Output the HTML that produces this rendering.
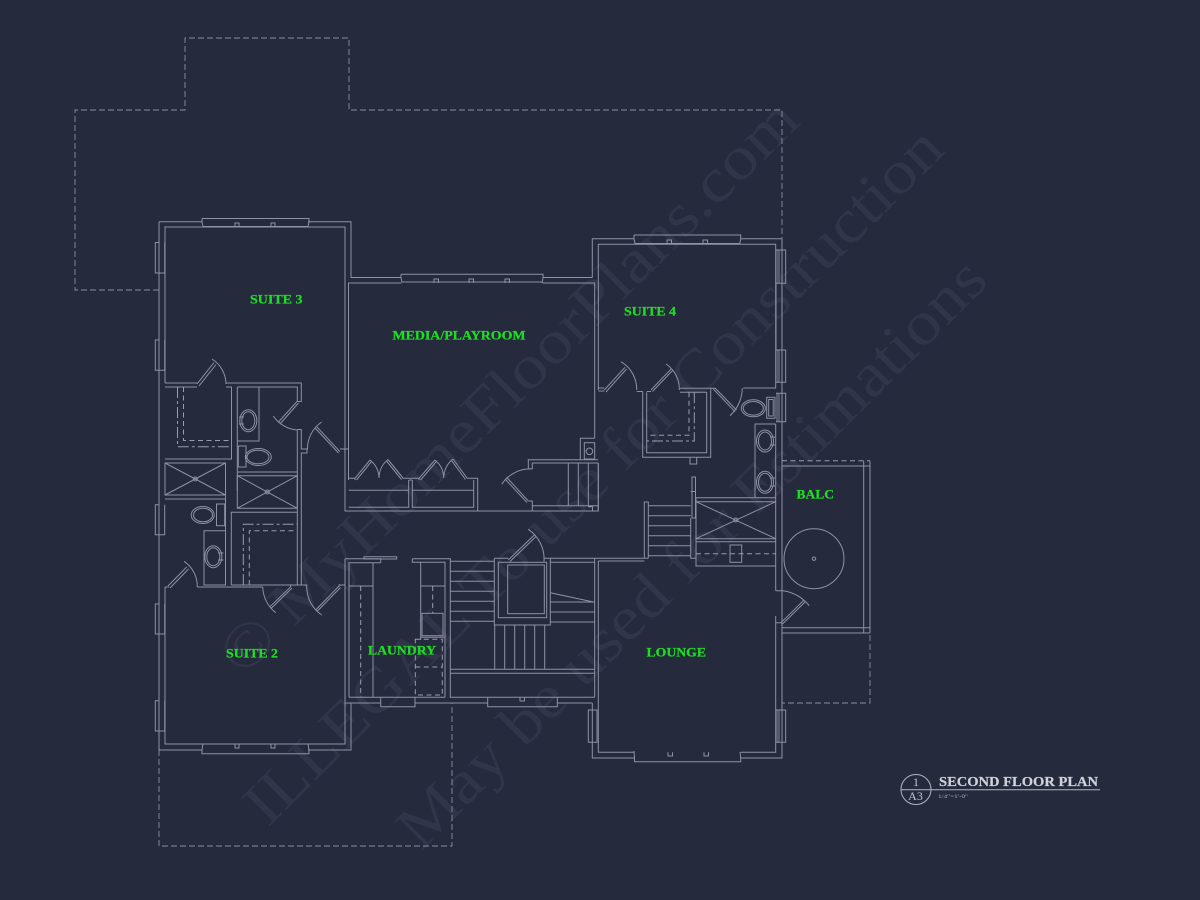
<!DOCTYPE html>
<html><head><meta charset="utf-8"><title>Second Floor Plan</title>
<style>html,body{margin:0;padding:0;background:#252a3c;width:1200px;height:900px;overflow:hidden}svg{display:block}
.w{fill:none;stroke:#8f92a4;stroke-width:1}
.d{fill:none;stroke:#9a9dae;stroke-width:1;stroke-dasharray:5 3.5}
.r{fill:none;stroke:#8b8ea0;stroke-width:.9;stroke-dasharray:6 3}
.dd{fill:none;stroke:#9a9dae;stroke-width:1;stroke-dasharray:11 3 3 3}
.l{font-family:"Liberation Serif",serif;font-weight:bold;font-size:12.5px;fill:#1fdc24;stroke:#1fdc24;stroke-width:.25}
.m{font-family:"Liberation Serif",serif;font-size:62px;fill:#30354a}
</style></head><body>
<svg width="1200" height="900" viewBox="0 0 1200 900" xmlns="http://www.w3.org/2000/svg">
<rect width="1200" height="900" fill="#252a3c"/>
<!-- watermark -->
<text class="m" transform="translate(243,678) rotate(-44.8)" textLength="788" lengthAdjust="spacingAndGlyphs">© MyHomeFloorPlans.com</text>
<text class="m" transform="translate(268,828) rotate(-44.9)" textLength="958" lengthAdjust="spacingAndGlyphs">ILLEGAL To use for Construction</text>
<text class="m" transform="translate(421,852) rotate(-45)" textLength="805" lengthAdjust="spacingAndGlyphs">May be used for Estimations</text>
<!-- roof dashed -->
<path class="r" d="M159 290H75V110H185V38H349V110H782V238M159 750V846H452V703M782 633H870V703H782"/>
<!-- Suite 3 / 2 shell -->
<path class="w" d="M159 221.7V750H202M308 750H351V703M159 221.7H202M308 221.7H351V277.5H401M165 383V227H345V449M165 587V744H345V587"/>
<!-- left windows -->
<path class="w" d="M159 242.5H155.3V273H159M164.7 242.5V273H159M159 340H155.3V370.3H159M164.7 340V370.3H159M159 504.7H155.3V534.7H159M164.7 504.7V534.7H159M159 604H155.3V634H159M164.7 604V634H159M159 700.7H155.3V731H159M164.7 700.7V731H159"/>
<!-- top / bottom windows suite 3/2 -->
<path class="w" d="M202 218.5H309V222.5L308 226.5M202 218.5V222.5L203 226.5H308M235 227V223H239V227M271 227V223H275V227"/>
<path class="w" d="M203 744L202 750V753.7H309V750L308 744M235 744V748H239V744M271 744V748H275V744"/>
<!-- suite 3 bath/closet -->
<path class="w" d="M165 383H197M226 383H301.3V401.5H297.3M165 387H197M226 387H231.5V459H165M237.3 387H297.3V401.5M237.3 387V491M237.3 441H259V387M237.3 472H297.3M297.3 429.5H301.3V449H307V453H301.3V585M297.3 429.5V585"/>
<path class="w" d="M197 384L214 362.5M199 386L216 364.5M212 359A30 30 0 0 1 226 384"/>
<path class="w" d="M297 401.5L278 422.5M298.5 403L280 424M273.3 416A32 32 0 0 0 297 430"/>
<path class="w" d="M340 451.7L316.7 426.7M338.5 453L315 428M307.5 449.5A32 32 0 0 1 321.7 422M340 449H345"/>
<path class="dd" d="M177.5 387V446.7H231.5"/><path class="d" d="M183.5 387V440.5H231.5"/>
<!-- showers -->
<path class="w" d="M165 463H225.5V495H165ZM165 495L225.5 463M165 463L225.5 495M165 499H225.5"/>
<circle class="w" cx="195.3" cy="479" r="2"/>
<path class="w" d="M237.3 475.7H297.3V508.3H237.3ZM237.3 508.3L297.3 475.7M237.3 475.7L297.3 508.3"/>
<circle class="w" cx="267.3" cy="492" r="2"/>
<!-- fixtures -->
<rect class="w" x="238.3" y="446" width="7.7" height="21"/>
<ellipse class="w" cx="258.3" cy="457" rx="13" ry="8.5"/><ellipse class="w" cx="258" cy="457" rx="11" ry="6.8"/>
<ellipse class="w" cx="248.3" cy="420.7" rx="8.5" ry="11"/><ellipse class="w" cx="248.3" cy="420.7" rx="6.5" ry="9"/>
<path class="w" d="M239 417H244M239 424H244"/>
<rect class="w" x="216.5" y="504" width="8.2" height="21.7"/>
<ellipse class="w" cx="202.7" cy="515" rx="11.5" ry="8.5"/><ellipse class="w" cx="203" cy="515" rx="9.5" ry="6.8"/>
<ellipse class="w" cx="213.3" cy="556.7" rx="8.5" ry="11"/><ellipse class="w" cx="213.3" cy="556.7" rx="6.5" ry="9"/>
<path class="w" d="M218 553H223.5M218 560H223.5"/>
<!-- suite 2 bath -->
<path class="w" d="M225.5 463V585H204V530.7H225.5M204 530.7V585M165 587H169M197.3 587H262.7M231.3 585V512.3H297.3M231.3 585H297.3M290.7 587V585H306.7V587M339 587V585H345"/>
<path class="dd" d="M243.3 585V524.3H297.3"/><path class="d" d="M249.3 585V530.7H297.3"/>
<path class="w" d="M168 586L186.7 567M170 588L188.5 569M184 561.3A30 30 0 0 1 197.3 587"/>
<path class="w" d="M262.7 587A34 34 0 0 0 275.7 612.7M270 606.7L290.7 586.7M271.5 608L292 588"/>
<path class="w" d="M306.7 587A34 34 0 0 0 321.7 615M315.7 610L339 586M317 611.5L340.5 587.5"/>
<!-- media -->
<path class="w" d="M348.5 480V283H401.5M542.5 283H594.7V438.3M345 449V511H592M348.7 507.3H408.7V480M348.7 490.3H408.7M412.3 480V507.3H473.7V480M412.3 490.3H473.7M348.7 478.3H355V480M402.7 478.3H419V480M467 478.3H477.7V510.7M409 480H412.3M345 449H348.5"/>
<path class="w" d="M401 274.3H543V278L542 283M401 274.3V278L402 282H542M434 283V279H438.5V283M469 283V279H473.5V283M505 283V279H509.5V283"/>
<path class="w" d="M355 478.3L370 460M356.5 480L371.5 461.5M370 460A24 24 0 0 1 379 478M388 459.5L403 478M386.5 461L401.5 479.5M388 459.5A24 24 0 0 0 379 478M419 478.3L435 460M420.5 480L436.5 461.5M435 460A24 24 0 0 1 443.7 478M453 459L467 478M451.5 460.5L465.5 479.5M453 459A24 24 0 0 0 443.7 478"/>
<path class="w" d="M506.7 477.3L528.3 501M505 479L527 502.5M501.7 484.3A34 34 0 0 1 532.3 469M528.3 469V459.7H598M532.3 469V463H598.3M528.3 501H532.3V511M532.3 505.7H598.3M568.3 463V506M578.3 463V506M588.3 463V506M598.3 463V511H592M588 506.7H592.5V510.7"/>
<path class="w" d="M580.3 459.7V438.3H594.7"/><rect class="w" x="584.3" y="442.7" width="10.4" height="16.3"/><circle class="w" cx="589.4" cy="451.3" r="3.3"/>
<!-- suite 4 -->
<path class="w" d="M592.3 277.5V238.7H634M740.7 238.7H782V622.7M543 277.5H592.3M598.3 390V244.3H775.7V388H743.3M775.7 244.3V388M598.3 463V510"/>
<path class="w" d="M634 235H740.7V239L739.7 244M634 235V239L635 243.5H740M667 244V240H671.5V244M703 244V240H707.5V244"/>
<rect x="776" y="250" width="4" height="33" fill="#565a6c"/><rect x="776" y="350" width="4" height="32" fill="#565a6c"/><rect x="776" y="393.5" width="4" height="28" fill="#565a6c"/><rect x="776" y="710" width="4" height="32" fill="#565a6c"/>
<path class="w" d="M782 250H785.7V283.3H782M776 250H782M776 283.3H782M782 350H785.7V382.3H782M776 350H782M776 382.3H782M782 393.3H785.7V421.7H782M776 393.3H782M776 421.7H782"/>
<path class="w" d="M776 283V350M598.3 388H604.3M598.3 391H604.3M636.7 391.5H642.7M651 391.5H646.7M680 388.3H715M680 392.3H706.7M642.7 391.5V457.3H710.7V388.3M646.7 392.3V452.7H706.7V392.3M690 457.3V464H696.7V457.3"/>
<path class="dd" d="M694.3 392.3V441H646.7"/><path class="d" d="M689 392.3V435.3H646.7"/>
<path class="w" d="M604.3 390L625 367.3M606 392L626.5 369M621 361.7A32 32 0 0 1 636.7 390M651 390L671.7 368.3M652.5 391.5L673 370M666 364A30 30 0 0 1 679.3 390"/>
<path class="w" d="M713.3 389L735 411.7M715 388L736.5 410M742.3 388.3A38 38 0 0 1 730 415.7"/>
<rect class="w" x="766.7" y="397.3" width="8.3" height="21"/><rect class="w" x="768.7" y="399.5" width="4.5" height="16.5"/>
<ellipse class="w" cx="753.3" cy="408.3" rx="12" ry="8.5"/><ellipse class="w" cx="753.3" cy="408.3" rx="10" ry="6.8"/>
<path class="w" d="M775.7 424H755V497.3"/>
<ellipse class="w" cx="765" cy="441" rx="8.5" ry="11"/><ellipse class="w" cx="765" cy="441" rx="6.5" ry="9"/>
<ellipse class="w" cx="765" cy="482.3" rx="8.5" ry="11"/><ellipse class="w" cx="765" cy="482.3" rx="6.5" ry="9"/>
<path class="w" d="M770 437H775M770 445H775M770 478H775M770 486H775"/>
<!-- shower & stair east -->
<path class="w" d="M696 497.7H775.7M696 501.7H775.7V538.7H696ZM696 538.7L775.7 501.7M696 501.7L775.7 538.7M696 497.7V566H775.7M696 541.7H775.7M775.7 424V590.7"/>
<circle class="w" cx="735.8" cy="520" r="2"/>
<rect class="w" x="730" y="545" width="11.7" height="17.3"/><path class="d" d="M696 553.7H775.7"/>
<path class="w" d="M692 477V518H695.5V477ZM690.7 491.5H696M690.7 518V558.3H696M644.3 558.3V502H648.3V558.3M648.3 505.7H690.7M648.3 515.7H690.7M648.3 525.7H690.7M648.3 535.7H690.7M648.3 545.7H690.7M648.3 555.7H690.7"/>
<!-- lounge -->
<path class="w" d="M594.7 558.3H648.3M598.3 561V752.3H634M598.3 561H644.3M592.3 703V758H634M740.7 758H782V622.7M740.7 752.3H775.7V622.7H781.7M775.7 622.7V616"/>
<path class="w" d="M634 751L634.5 758V761.7H740.7V758L740 752M668 752.3V756H672.5V752.3M704 752.3V756H708.5V752.3"/>
<path class="w" d="M592.3 710H588.3V742.3H592.3M592.3 710H597V742.3H592.3M782 710H785.7V742.3H782M776 710H782M776 742.3H782"/>
<!-- balcony -->
<path class="d" d="M782 460.7H870"/>
<path class="w" d="M782 466H870M863.7 461V633M870 461V633M782 627.7H870M782 633H870"/>
<circle class="w" cx="814" cy="558.7" r="30"/><circle class="w" cx="814" cy="558.7" r="1.7"/>
<path class="w" d="M775.7 590.7H783.3A42 42 0 0 1 809.3 605.7M804 600L781 622.7M805.5 601.5L782.5 624"/>
<!-- laundry -->
<path class="w" d="M345 558.7V700M345 558.7H380.7V562.7M364 556.7H396.7V559H364ZM349 697.3V562.7H380.7M373 562.7V697.3M349 586H373M349 697.3H445M412.3 558.7H450.3V697.3H594.7M412.3 558.7V562.3H445V697.3M420.7 562.3V637.3H445M420.7 586H445M420.7 637.3V640"/>
<path class="d" d="M360.7 586V697.3M432.7 586V613.3"/>
<rect class="w" x="422" y="613.3" width="21" height="22.4"/>
<path class="d" d="M415.3 639.3H442.3V695H415.3ZM415.3 667H442.3"/>
<path class="w" d="M345 700V703H380.7M380.7 697V706.7H415V697M380.7 703H351M415 703H487.7M487.7 697V706.7H557.3V697M557.3 703H592.3M520 697V701H524.5V697"/>
<!-- central stairs -->
<path class="w" d="M450.3 561.3H494.3M450.3 571.3H494.3M450.3 581.3H494.3M450.3 591.3H494.3M450.3 601.3H494.3M450.3 611.3H494.3M450.3 621.3H494.3"/>
<path class="w" d="M494.3 558.3H508.3M544 558.3H594.7M494.3 558.3V625H550.3V558.3"/>
<rect class="w" x="498.3" y="562.3" width="48.4" height="55.4"/><rect class="w" x="507.7" y="565" width="36.6" height="48.7"/>
<path class="w" d="M508.3 560L534.3 535M510 561.5L536 536.5M528.3 529.3A36 36 0 0 1 544 561.7"/>
<path class="w" d="M550.3 562.3H594.7M550.3 592.7L594.7 602.3M550.3 602H594.7M550.3 612H594.7M550.3 622H594.7M594.7 558.3V697.3"/>
<path class="w" d="M494.7 625V669.3M504.7 625V669.3M514.7 625V669.3M524.7 625V669.3M534.7 625V669.3M544.7 625V669.3M450.3 669.3H594.7M450.3 673.3H594.7"/>
<!-- labels -->
<text class="l" x="250" y="303.5" textLength="52.5" lengthAdjust="spacingAndGlyphs">SUITE 3</text>
<text class="l" x="392.5" y="339.5" textLength="133" lengthAdjust="spacingAndGlyphs">MEDIA/PLAYROOM</text>
<text class="l" x="624" y="315.5" textLength="52" lengthAdjust="spacingAndGlyphs">SUITE 4</text>
<text class="l" x="796.5" y="498.5" textLength="37.5" lengthAdjust="spacingAndGlyphs">BALC</text>
<text class="l" x="226" y="657.5" textLength="52" lengthAdjust="spacingAndGlyphs">SUITE 2</text>
<text class="l" x="368" y="654.5" textLength="68" lengthAdjust="spacingAndGlyphs">LAUNDRY</text>
<text class="l" x="646.5" y="656.5" textLength="59.5" lengthAdjust="spacingAndGlyphs">LOUNGE</text>
<!-- title block -->
<circle cx="916" cy="789.5" r="15" fill="none" stroke="#b4b6c3" stroke-width="1"/>
<path d="M901 789.7H1100" stroke="#b4b6c3" stroke-width="1"/>
<text x="916" y="786" text-anchor="middle" font-family="Liberation Serif,serif" font-size="12" fill="#c4c6d0">1</text>
<text x="915.5" y="800" text-anchor="middle" font-family="Liberation Serif,serif" font-size="12" fill="#c4c6d0">A3</text>
<text x="939" y="786" font-family="Liberation Serif,serif" font-weight="bold" font-size="13.5" fill="#d0d2da" stroke="#d0d2da" stroke-width=".2" textLength="159" lengthAdjust="spacingAndGlyphs">SECOND FLOOR PLAN</text>
<text x="938" y="798" font-family="Liberation Serif,serif" font-size="5.5" fill="#b4b6c3" textLength="30" lengthAdjust="spacingAndGlyphs">1/4"=1'-0"</text>
</svg>
</body></html>
